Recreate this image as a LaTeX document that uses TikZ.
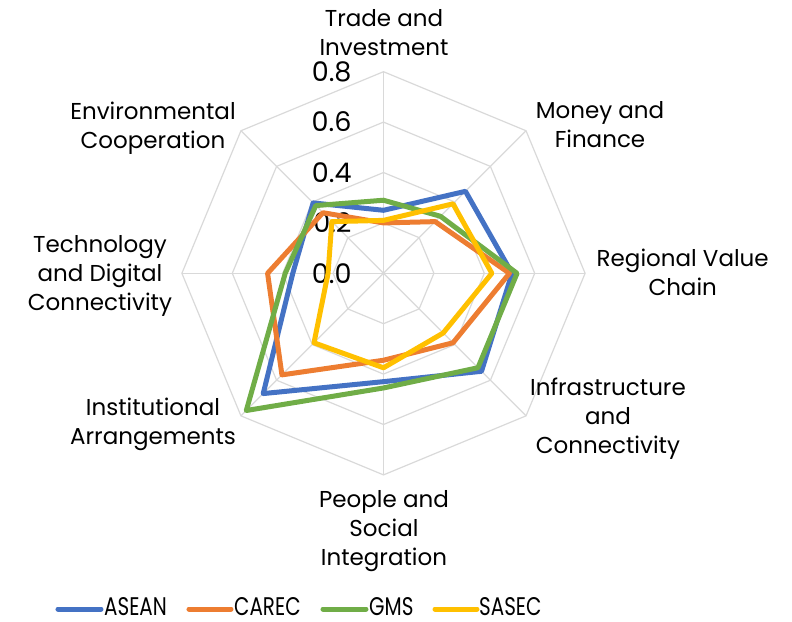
\documentclass[tikz,border=0pt]{standalone}
\usepackage{fontspec}
\setmainfont{Poppins}
\newfontfamily\legendfont[FakeStretch=0.78]{Poppins}
\definecolor{asean}{RGB}{68,114,196}
\definecolor{carec}{RGB}{237,125,49}
\definecolor{gms}{RGB}{112,173,71}
\definecolor{sasec}{RGB}{255,192,0}
\definecolor{gridgray}{RGB}{217,217,217}

\begin{document}
\begin{tikzpicture}[x=252pt,y=252pt,
    grid/.style={draw=gridgray,line width=1.2pt},
    series/.style={line width=5pt,line join=round},
    axislabel/.style={font=\fontsize{23}{29}\selectfont,align=center,anchor=base},
    ticklabel/.style={font=\fontsize{27}{30}\selectfont,anchor=east,inner sep=0pt},
    legendtext/.style={font=\legendfont\fontsize{25.5}{28}\selectfont,anchor=base west,inner sep=0pt}]
        \useasboundingbox (-383.5pt,-347.7pt) rectangle (408.5pt,273.3pt);
        % routine for spokes
        \draw[grid] (0,0) -- (90:0.8);
        \draw[grid] (0,0) -- (45:0.8);
        \draw[grid] (0,0) -- (0:0.8);
        \draw[grid] (0,0) -- (-45:0.8);
        \draw[grid] (0,0) -- (-90:0.8);
        \draw[grid] (0,0) -- (-135:0.8);
        \draw[grid] (0,0) -- (180:0.8);
        \draw[grid] (0,0) -- (135:0.8);
        % rings at 0.2, 0.4, 0.6, 0.8
        \draw[grid] (90:0.2) -- (45:0.2) -- (0:0.2) -- (-45:0.2) -- (-90:0.2) -- (-135:0.2) -- (180:0.2) -- (135:0.2) -- cycle;
        \draw[grid] (90:0.4) -- (45:0.4) -- (0:0.4) -- (-45:0.4) -- (-90:0.4) -- (-135:0.4) -- (180:0.4) -- (135:0.4) -- cycle;
        \draw[grid] (90:0.6) -- (45:0.6) -- (0:0.6) -- (-45:0.6) -- (-90:0.6) -- (-135:0.6) -- (180:0.6) -- (135:0.6) -- cycle;
        \draw[grid] (90:0.8) -- (45:0.8) -- (0:0.8) -- (-45:0.8) -- (-90:0.8) -- (-135:0.8) -- (180:0.8) -- (135:0.8) -- cycle;
        % tick values
        \node[ticklabel] (t0) at (-31.8pt,0pt) {0.0};
        \node[ticklabel] (t2) at (-31.8pt,50.4pt) {0.2};
        \node[ticklabel] (t4) at (-31.8pt,100.8pt) {0.4};
        \node[ticklabel] (t6) at (-31.8pt,151.2pt) {0.6};
        \node[ticklabel] (t8) at (-31.8pt,201.6pt) {0.8};
        % series, clockwise from Trade and Investment
        \draw[series,asean] (90:0.25) -- (45:0.46) -- (0:0.51) -- (-45:0.55) -- (-90:0.43) -- (-135:0.675) -- (180:0.36) -- (135:0.395) -- cycle;
        \draw[series,carec] (90:0.20) -- (45:0.29) -- (0:0.50) -- (-45:0.39) -- (-90:0.345) -- (-135:0.57) -- (180:0.46) -- (135:0.34) -- cycle;
        \draw[series,gms] (90:0.29) -- (45:0.32) -- (0:0.53) -- (-45:0.53) -- (-90:0.455) -- (-135:0.77) -- (180:0.39) -- (135:0.38) -- cycle;
        \draw[series,sasec] (90:0.21) -- (45:0.39) -- (0:0.43) -- (-45:0.335) -- (-90:0.375) -- (-135:0.39) -- (180:0.22) -- (135:0.29) -- cycle;
        % axis names (base = last line)
        \node[axislabel] (trade) at (0.5pt,217.3pt) {Trade and\\Investment};
        \node[axislabel] (money) at (216.5pt,126pt) {Money and\\Finance};
        \node[axislabel] (rvc) at (299.2pt,-21.7pt) {Regional Value\\Chain};
        \node[axislabel] (infra) at (224.5pt,-180pt) {Infrastructure\\and\\Connectivity};
        \node[axislabel] (people) at (0.5pt,-291.7pt) {People and\\Social\\Integration};
        \node[axislabel] (inst) at (-230.5pt,-171pt) {Institutional\\Arrangements};
        \node[axislabel] (tech) at (-283.5pt,-36.7pt) {Technology\\and Digital\\Connectivity};
        \node[axislabel] (env) at (-230.5pt,125pt) {Environmental\\Cooperation};
        % legend
        \draw[asean,line width=5pt,line cap=round] (-325.5pt,-335.7pt) -- (-282.5pt,-335.7pt);
        \node[legendtext] (lasean) at (-279.5pt,-342.5pt) {ASEAN};
        \draw[carec,line width=5pt,line cap=round] (-194.5pt,-335.7pt) -- (-152.5pt,-335.7pt);
        \node[legendtext] (lcarec) at (-149.5pt,-342.5pt) {CAREC};
        \draw[gms,line width=5pt,line cap=round] (-60.5pt,-335.7pt) -- (-17.5pt,-335.7pt);
        \node[legendtext] (lgms) at (-14.5pt,-342.5pt) {GMS};
        \draw[sasec,line width=5pt,line cap=round] (51.5pt,-335.7pt) -- (93.5pt,-335.7pt);
        \node[legendtext] (lsasec) at (95.5pt,-342.5pt) {SASEC};
\end{tikzpicture}
\end{document}
